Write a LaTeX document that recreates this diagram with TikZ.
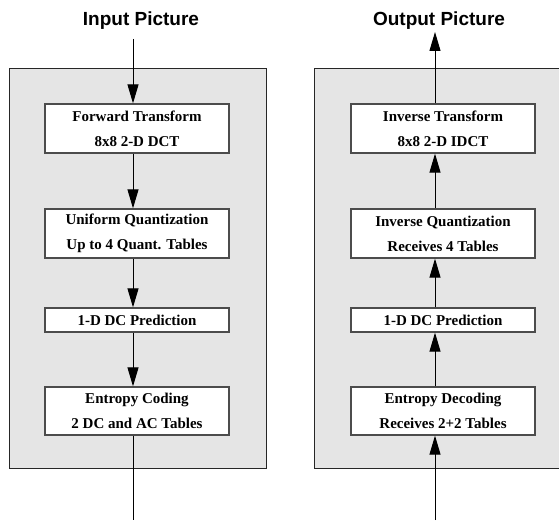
\documentclass[tikz,border=0pt]{standalone}
\usepackage{fontspec}
\setmainfont{Liberation Serif}
\newfontfamily\titlefont{Liberation Sans}
\usetikzlibrary{arrows.meta}

\tikzset{
	panel/.style={draw=black!85, fill=black!10, line width=0.9pt},
	stage/.style={draw=black!70, fill=white, line width=1.3pt, minimum width=184pt,
		align=center, font=\bfseries\fontsize{15}{25}\selectfont, inner sep=0pt},
	flow/.style={-{Triangle[length=19pt,width=11pt]}, line width=1pt},
	title/.style={font=\titlefont\bfseries\fontsize{19}{22}\selectfont, anchor=base}
}

\begin{document}
\begin{tikzpicture}[x=1pt, y=1pt]
	\useasboundingbox (0,0) rectangle (559,520);
	% panels
	\draw[panel] (9,52) rectangle (266,452);
	\draw[panel] (314,52) rectangle (620,452);

	% encoder
	\node[title] (inpic) at (141,494) {Input Picture};
	\node[stage, minimum height=49pt] (ft) at (137,391.5) {Forward Transform\\8x8 2-D DCT};
	\node[stage, minimum height=49pt] (uq) at (137,286.5) {Uniform Quantization\\Up to 4 Quant. Tables};
	\node[stage, minimum height=24pt] (pred) at (137,200) {1-D DC Prediction};
	\node[stage, minimum height=48pt] (ec) at (137,109) {Entropy Coding\\2 DC and AC Tables};
	\coordinate (encin) at (133,481);
	\coordinate (encout) at (133,0);

	\draw[flow] (encin) -- (encin |- ft.north);
	\draw[flow] (encin |- ft.south) -- (encin |- uq.north);
	\draw[flow] (encin |- uq.south) -- (encin |- pred.north);
	\draw[flow] (encin |- pred.south) -- (encin |- ec.north);
	\draw[line width=1pt] (encin |- ec.south) -- (encout);

	% decoder
	\node[title] (outpic) at (439,494) {Output Picture};
	\node[stage, minimum height=49pt] (it) at (443,391.5) {Inverse Transform\\8x8 2-D IDCT};
	\node[stage, minimum height=49pt] (iq) at (443,286.5) {Inverse Quantization\\Receives 4 Tables};
	\node[stage, minimum height=24pt] (dpred) at (443,200) {1-D DC Prediction};
	\node[stage, minimum height=48pt] (ed) at (443,109) {Entropy Decoding\\Receives 2+2 Tables};
	\coordinate (decout) at (435,488);
	\coordinate (decin) at (435,0);

	\draw[flow] (decin) -- (decin |- ed.south);
	\draw[flow] (decin |- ed.north) -- (decin |- dpred.south);
	\draw[flow] (decin |- dpred.north) -- (decin |- iq.south);
	\draw[flow] (decin |- iq.north) -- (decin |- it.south);
	\draw[flow] (decin |- it.north) -- (decout);
\end{tikzpicture}
\end{document}
